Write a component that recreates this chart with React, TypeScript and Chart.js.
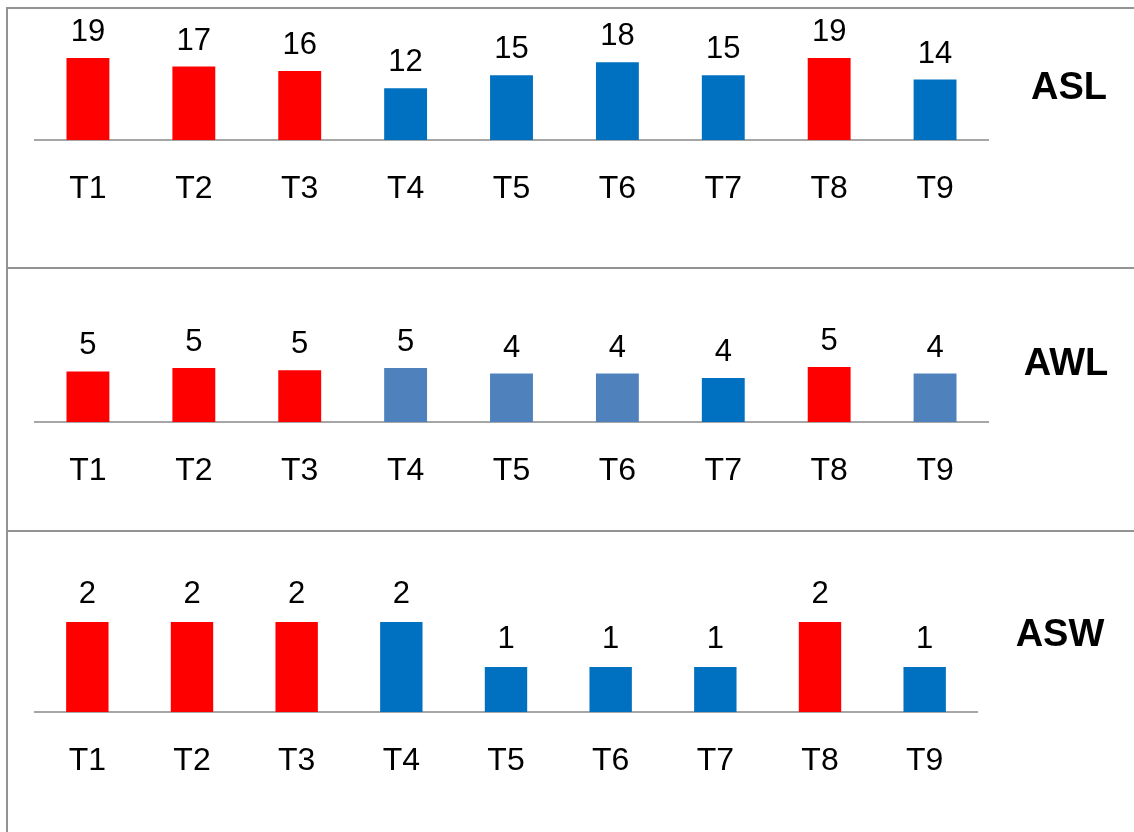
import React, { useEffect, useRef } from "react";
import { Chart, registerables } from "chart.js";

Chart.register(...registerables);

const categories = ["T1", "T2", "T3", "T4", "T5", "T6", "T7", "T8", "T9"];
const aslValues = [19, 17, 16, 12, 15, 18, 15, 19, 14];
const awlValues = [4.6, 4.9, 4.7, 4.9, 4.4, 4.4, 4.0, 5.0, 4.4];
const aswValues = [2, 2, 2, 2, 1, 1, 1, 2, 1];

const RED = "#FF0000";
const BLUE = "#0070C0";
const STEEL = "#4F81BD";

const aslColors = [RED, RED, RED, BLUE, BLUE, BLUE, BLUE, RED, BLUE];
const awlColors = [RED, RED, RED, STEEL, STEEL, STEEL, BLUE, RED, STEEL];
const aswColors = [RED, RED, RED, BLUE, BLUE, BLUE, BLUE, RED, BLUE];

const FONT = "'Liberation Sans', Arial, Helvetica, sans-serif";
const BORDER = "#939393";

const makeValueLabelPlugin = (gap: number) => ({
  id: "valueLabels",
  afterDatasetsDraw(chart: any) {
    const ctx = chart.ctx;
    ctx.save();
    ctx.font = `31px ${FONT}`;
    ctx.fillStyle = "#000000";
    ctx.textAlign = "center";
    ctx.textBaseline = "alphabetic";
    chart.data.datasets.forEach((ds: any, di: number) => {
      const meta = chart.getDatasetMeta(di);
      meta.data.forEach((bar: any, i: number) => {
        const v = ds.data[i];
        ctx.fillText(String(Math.round(v)), bar.x, bar.y - gap);
      });
    });
    ctx.restore();
  },
});

type PanelProps = {
  top: number;
  height: number;
  values: number[];
  colors: string[];
  yMax: number;
  padTop: number;
  padRight: number;
  axisHeight: number;
  gap: number;
};

function Panel({ top, height, values, colors, yMax, padTop, padRight, axisHeight, gap }: PanelProps) {
  const ref = useRef<HTMLCanvasElement | null>(null);
  useEffect(() => {
    if (!ref.current) return;
    const chart = new Chart(ref.current, {
      type: "bar",
      data: {
        labels: categories,
        datasets: [
          {
            data: values,
            backgroundColor: colors,
            borderWidth: 0,
            barPercentage: 0.405,
            categoryPercentage: 1,
          },
        ],
      },
      options: {
        animation: false,
        responsive: true,
        maintainAspectRatio: false,
        layout: { padding: { left: 27, right: padRight, top: padTop, bottom: 0 } },
        plugins: {
          legend: { display: false },
          tooltip: { enabled: false },
          title: { display: false },
        },
        scales: {
          x: {
            grid: { display: false, drawTicks: false },
            border: { display: true, color: "#A6A6A6", width: 2 },
            ticks: {
              color: "#000000",
              font: { family: FONT, size: 32 },
              padding: 30,
              maxRotation: 0,
              autoSkip: false,
            },
            afterFit: (scale: any) => {
              scale.height = axisHeight;
            },
          },
          y: {
            display: false,
            min: 0,
            max: yMax,
          },
        },
      },
      plugins: [makeValueLabelPlugin(gap)],
    });
    return () => chart.destroy();
  }, []);
  return (
    <div style={{ position: "absolute", left: 8, top, width: 1126, height }}>
      <canvas ref={ref} />
    </div>
  );
}

function Title({ text, cx, cy }: { text: string; cx: number; cy: number }) {
  return (
    <div
      style={{
        position: "absolute",
        left: cx,
        top: cy,
        transform: "translate(-50%, -50%)",
        fontFamily: FONT,
        fontWeight: "bold",
        fontSize: 38,
        lineHeight: "38px",
        color: "#000",
        whiteSpace: "nowrap",
      }}
    >
      {text}
    </div>
  );
}

export default function App() {
  return (
    <div
      style={{
        position: "absolute",
        left: 0,
        top: 0,
        width: 1134,
        height: 832,
        background: "#ffffff",
        overflow: "hidden",
      }}
    >
      <Panel top={10} height={257} values={aslValues} colors={aslColors} yMax={25} padTop={22} padRight={146} axisHeight={127} gap={17} />
      <Panel top={270} height={260} values={awlValues} colors={awlColors} yMax={8} padTop={64} padRight={146} axisHeight={108} gap={17} />
      <Panel top={533} height={299} values={aswValues} colors={aswColors} yMax={3} padTop={44} padRight={157} axisHeight={120} gap={19} />

      <Title text="ASL" cx={1069} cy={86} />
      <Title text="AWL" cx={1066} cy={362} />
      <Title text="ASW" cx={1060} cy={633} />

      <div style={{ position: "absolute", left: 6, top: 7, width: 2, height: 825, background: BORDER }} />
      <div style={{ position: "absolute", left: 6, top: 7, width: 1128, height: 2, background: BORDER }} />
      <div style={{ position: "absolute", left: 6, top: 267, width: 1128, height: 2, background: BORDER }} />
      <div style={{ position: "absolute", left: 6, top: 530, width: 1128, height: 2, background: BORDER }} />
    </div>
  );
}
